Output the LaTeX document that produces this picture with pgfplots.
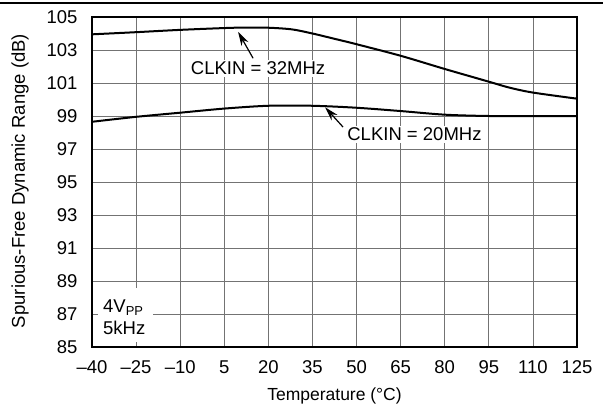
\documentclass[border=0pt]{standalone}
\usepackage{fontspec}
\setmainfont{Liberation Sans}
\usepackage{pgfplots}
\pgfplotsset{compat=1.18}
\usetikzlibrary{arrows.meta}
\newcommand{\fs}{\fontsize{18.5bp}{22bp}\selectfont}
\begin{document}
\begin{tikzpicture}[x=1bp,y=1bp]
\useasboundingbox (0,0) rectangle (603,409);
\draw[line width=1.8bp] (0,406) -- (603,406);
\begin{axis}[
  at={(92bp,62bp)}, anchor=south west,
  scale only axis, width=485bp, height=330bp,
  xmin=-40, xmax=125, ymin=85, ymax=105,
  xtick={-40,-25,...,125},
  xticklabels={–40,–25,–10,5,20,35,50,65,80,95,110,125},
  ytick={85,87,...,105},
  grid=major,
  major grid style={line width=0.8bp, draw=black!55},
  axis line style={line width=2bp},
  major tick length=0pt,
  tick label style={font=\fs},
  /pgf/number format/assume math mode=true,
  xticklabel style={yshift=-10bp},
  yticklabel style={xshift=-11bp},
  label style={font=\fs},
  xlabel={Temperature (°C)},
  ylabel={Spurious-Free Dynamic Range (dB)},
  xlabel style={at={(axis description cs:0.5,-0.147)}, anchor=center, font=\fontsize{17.5bp}{21bp}\selectfont},
  ylabel style={at={(axis description cs:-0.1485,0.503)}, anchor=center},
  clip=false,
]
\addplot[black, line width=2bp, smooth, tension=0.5] coordinates {
(-40,103.95) (-25,104.08) (-10,104.22) (5,104.33) (12,104.36) (20,104.35) (28,104.25) (35,104.0) (42,103.7) (50,103.35) (65,102.65) (80,101.85) (95,101.08) (102,100.72) (110,100.42) (125,100.05)};
\addplot[black, line width=2bp, smooth, tension=0.5] coordinates {
(-40,98.65) (-25,98.95) (-10,99.2) (5,99.45) (20,99.62) (35,99.62) (50,99.5) (65,99.3) (80,99.08) (95,99.0) (110,99.0) (125,99.0)};
\node[fill=white, inner sep=2bp, font=\fs] at (axis cs:16.5,101.9) {CLKIN = 32MHz};
\draw[line width=1.2bp, -{Stealth[length=14bp,width=8bp]}] (axis cs:14.8,102.5) -- (axis cs:9.7,104.1);
\node[fill=white, inner sep=2bp, font=\fs] at (axis cs:69.7,97.9) {CLKIN = 20MHz};
\draw[line width=1.2bp, -{Stealth[length=14bp,width=8bp]}] (axis cs:45.4,98.33) -- (axis cs:39.3,99.53);
\fill[white] (axis cs:-37.96,85.30) rectangle (axis cs:-19.24,88.58);
\node[inner sep=0pt, anchor=base west, font=\fs] at (axis cs:-36.26,87.12) {4V\textsubscript{PP}};
\node[inner sep=0pt, anchor=base west, font=\fs] at (axis cs:-36.26,85.73) {5kHz};
\end{axis}
\end{tikzpicture}
\end{document}
